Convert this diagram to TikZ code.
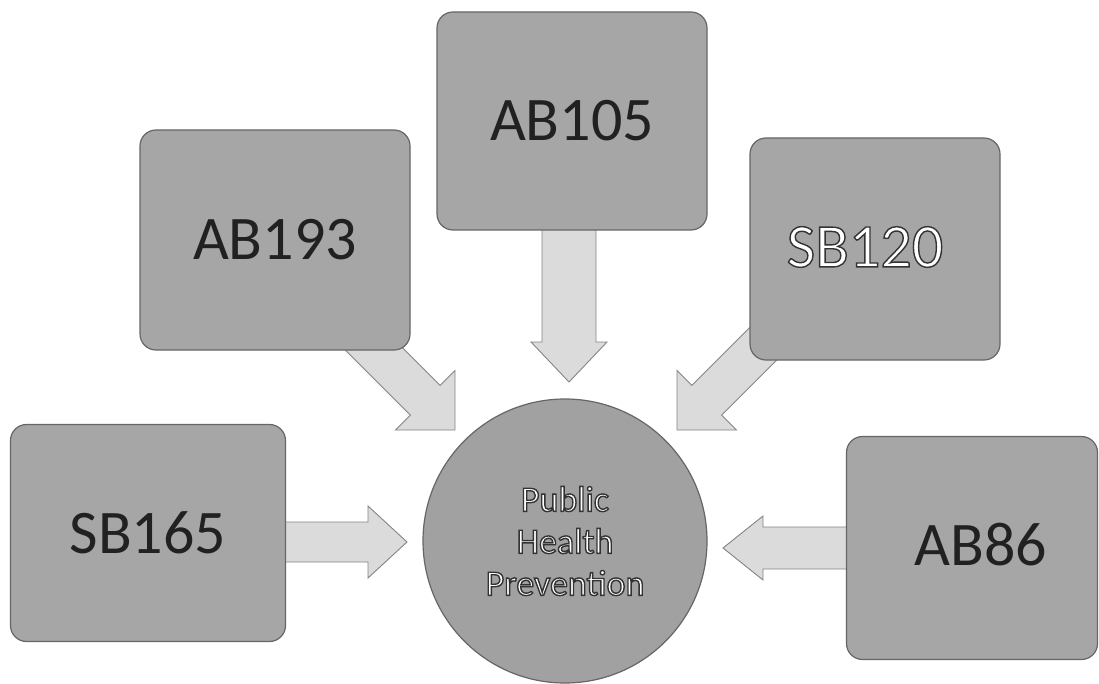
\documentclass[tikz,border=0pt]{standalone}
\usepackage{fontspec}
\setmainfont{Carlito}
\usetikzlibrary{calc}
\newcommand{\blockarrow}[5]{% start, tip, shaft half width, head half width, head length
  \path ($(#2)!#5!(#1)$) coordinate (ba-h);
  \filldraw[arrowbody] ($(#1)!#3!90:(#2)$) -- ($(ba-h)!#3!90:(#2)$) -- ($(ba-h)!#4!90:(#2)$) -- (#2)
    -- ($(ba-h)!#4!-90:(#2)$) -- ($(ba-h)!#3!-90:(#2)$) -- ($(#1)!#3!-90:(#2)$) -- cycle;}
\newcommand{\outl}[1]{\special{pdf:literal direct 0.2 G 1.4 w 2 Tr}#1\special{pdf:literal direct 0 Tr}}
\definecolor{boxgray}{gray}{0.65}
\definecolor{circgray}{gray}{0.63}
\definecolor{arrowgray}{gray}{0.86}
\definecolor{edgegray}{gray}{0.40}
\definecolor{txtdark}{gray}{0.13}
\begin{document}
\begin{tikzpicture}[x=1pt,y=-1pt,
  billbox/.style={draw=edgegray,line width=1.2pt,fill=boxgray,rounded corners=16pt,
    inner sep=0pt,font=\fontsize{62}{70}\selectfont,text=txtdark},
  arrowbody/.style={fill=arrowgray,draw=edgegray!80,line width=0.9pt,line join=miter},
  hub/.style={circle,draw=edgegray,line width=1.2pt,fill=circgray,inner sep=0pt,
    minimum size=284pt,align=center,font=\fontsize{36}{42}\selectfont,text=white}]
\useasboundingbox (0,0) rectangle (1099,684);
\fill[white] (0,0) rectangle (1099,684);
% arrow end points
\coordinate (s105) at (569,215);  \coordinate (t105) at (569,382);
\coordinate (s193) at (358,333);  \coordinate (t193) at (455,430);
\coordinate (s120) at (792,315);  \coordinate (t120) at (677,430);
\coordinate (s165) at (270,542);  \coordinate (t165) at (407,542);
\coordinate (s86)  at (860,548);  \coordinate (t86)  at (723,548);
% block arrows (under the boxes)
\blockarrow{s105}{t105}{27pt}{38pt}{40pt}
\blockarrow{s193}{t193}{21pt}{42pt}{42pt}
\blockarrow{s120}{t120}{21pt}{42pt}{42pt}
\blockarrow{s165}{t165}{20pt}{36pt}{39pt}
\blockarrow{s86}{t86}{21pt}{32pt}{40pt}
% boxes
\node[billbox,minimum width=270pt,minimum height=220pt] (b193) at (275,240) {AB193};
\node[billbox,minimum width=270pt,minimum height=218pt] (b105) at (572,121) {AB105};
\node[billbox,minimum width=250pt,minimum height=222pt] (b120) at (875,249) {};
\node[font=\fontsize{62}{70}\selectfont,text=white,inner sep=0pt] (l120) at (865,247) {\outl{SB120}};
\node[billbox,minimum width=275pt,minimum height=217pt] (b165) at (148,533) {SB165};
\node[billbox,minimum width=251pt,minimum height=223pt] (b86) at (972,548) {};
\node[font=\fontsize{62}{70}\selectfont,text=txtdark,inner sep=0pt] (l86) at (981,545) {AB86};
% hub
\node[hub] (ph) at (565,541) {\outl{Public}\\\outl{Health}\\\outl{Prevention}};
\end{tikzpicture}
\end{document}
